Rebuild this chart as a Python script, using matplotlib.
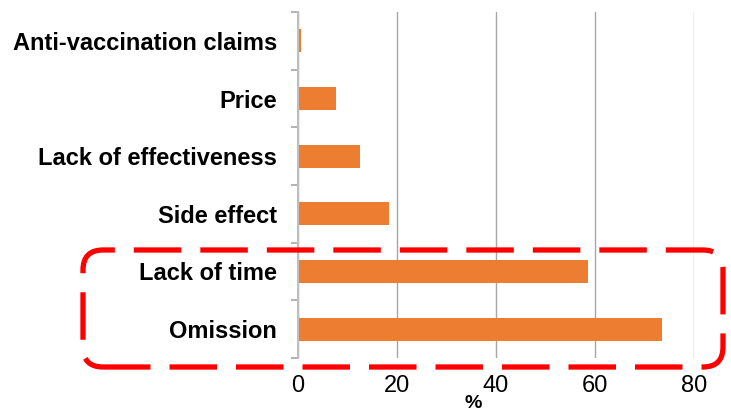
import matplotlib
matplotlib.use("Agg")
import matplotlib.pyplot as plt
from matplotlib.patches import FancyBboxPatch

categories = ["Omission", "Lack of time", "Side effect", "Lack of effectiveness", "Price", "Anti-vaccination claims"]
values = [73.5, 58.6, 18.4, 12.5, 7.7, 0.6]
xticks = [0, 20, 40, 60, 80]

plt.rcParams['font.family'] = ['Liberation Sans', 'DejaVu Sans']

W, H = 731, 412
fig = plt.figure(figsize=(W / 100, H / 100), dpi=100)
ax = fig.add_axes([298 / W, (H - 358) / H, (694 - 298) / W, (358 - 12) / H])

ypos = list(range(len(categories)))
ax.barh(ypos, values, height=0.4, color="#ED7D31", zorder=3)
ax.set_xlim(0, 80)
ax.set_ylim(-0.5, len(categories) - 0.5)
ax.set_xticks(xticks)
ax.set_xticklabels([str(t) for t in xticks], fontsize=17)
ax.set_yticks([i - 0.5 for i in range(len(categories) + 1)], minor=False)
ax.set_yticklabels([])
ax.set_yticks(ypos, minor=True)
ax.set_yticklabels(categories, minor=True, fontsize=17, fontweight='bold')
ax.tick_params(axis='y', which='major', length=5, color='#A6A6A6', width=1.2)
ax.tick_params(axis='y', which='minor', length=0, pad=15)
ax.tick_params(axis='x', length=0, pad=12)
ax.grid(axis='x', color='#A6A6A6', linewidth=1, zorder=0)
for s in ['top', 'right', 'bottom']:
    ax.spines[s].set_visible(False)
ax.spines['left'].set_color('#BFBFBF')
ax.spines['left'].set_linewidth(1.5)
ax.spines['left'].set_zorder(4)

fig.text(473 / W, 1 - 412 / H, "%", ha='center', va='bottom', fontsize=14, fontweight='bold')

box = FancyBboxPatch((0.83, (H - 367) / 100), 6.40, 1.17,
                     boxstyle="round,pad=0,rounding_size=0.2",
                     transform=fig.dpi_scale_trans, fill=False,
                     edgecolor='#FF0000', linewidth=3.8,
                     linestyle=(0, (9, 3.6)), zorder=10)
fig.patches.append(box)

fig.savefig("out.png", dpi=100)
